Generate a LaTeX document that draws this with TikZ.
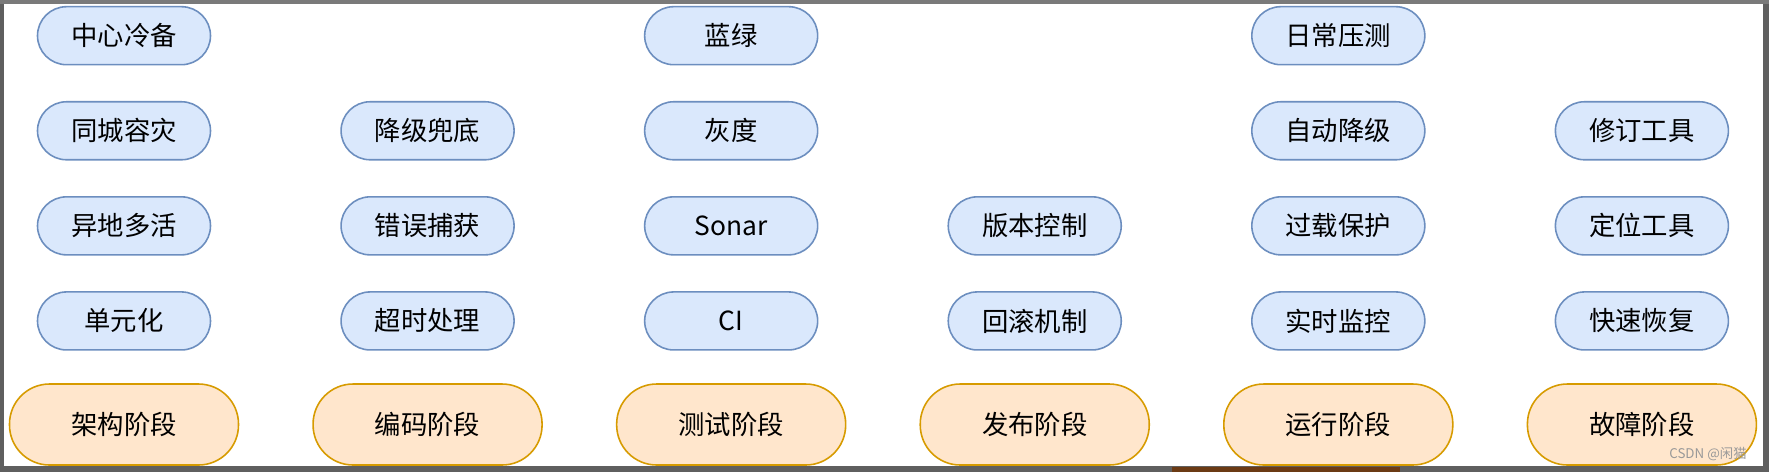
\documentclass[tikz,border=0pt]{standalone}
\usepackage{fontspec}
\newfontfamily\cjk{Noto Sans CJK SC}
\usepackage{tikz}
\usetikzlibrary{positioning}

\definecolor{itemfill}{HTML}{DAE8FC}
\definecolor{itemline}{HTML}{6C8EBF}
\definecolor{stagefill}{HTML}{FFE6CC}
\definecolor{stageline}{HTML}{D79B00}
\definecolor{framegray}{HTML}{5F5F5F}
\definecolor{topgray}{HTML}{7A7A7A}
\definecolor{barbrown}{HTML}{6B3A14}

\tikzset{
    itembox/.style={rectangle, rounded corners=2.9mm, minimum width=17.3mm, minimum height=5.8mm, inner sep=0pt, draw=itemline, fill=itemfill, line width=0.45pt, text centered, font=\cjk\fontsize{7.5}{9}\selectfont},
    stagebox/.style={rectangle, rounded corners=4mm, minimum width=22.9mm, minimum height=8.1mm, inner sep=0pt, draw=stageline, fill=stagefill, line width=0.45pt, text centered, font=\cjk\fontsize{7.5}{9}\selectfont},
}

\begin{document}
\begin{tikzpicture}
    % screenshot frame
    \useasboundingbox (0, 0) rectangle (176.9mm, 47.2mm);
    \fill [framegray] (0, 0) rectangle (176.9mm, 47.2mm);
    \fill [topgray] (0, 46.8mm) rectangle (176.9mm, 47.2mm);
    \fill [barbrown] (117.2mm, 0) rectangle (140mm, 0.5mm);
    \fill [white] (0.4mm, 0.6mm) rectangle (176.3mm, 46.8mm);

    % stages
    \node [stagebox] (arch) at (12.4mm, 4.75mm) {架构阶段};
    \node [stagebox, right=7.3mm of arch] (code) {编码阶段};
    \node [stagebox, right=7.3mm of code] (test) {测试阶段};
    \node [stagebox, right=7.3mm of test] (release) {发布阶段};
    \node [stagebox, right=7.3mm of release] (run) {运行阶段};
    \node [stagebox, right=7.3mm of run] (fault) {故障阶段};

    % architecture
    \node [itembox, above=3.25mm of arch] (unit) {单元化};
    \node [itembox, above=3.55mm of unit] (multisite) {异地多活};
    \node [itembox, above=3.55mm of multisite] (samecity) {同城容灾};
    \node [itembox, above=3.55mm of samecity] (coldbackup) {中心冷备};

    % coding
    \node [itembox, above=3.25mm of code] (timeout) {超时处理};
    \node [itembox, above=3.55mm of timeout] (catcherr) {错误捕获};
    \node [itembox, above=3.55mm of catcherr] (fallback) {降级兜底};

    % testing
    \node [itembox, above=3.25mm of test] (ci) {CI};
    \node [itembox, above=3.55mm of ci] (sonar) {Sonar};
    \node [itembox, above=3.55mm of sonar] (grayrel) {灰度};
    \node [itembox, above=3.55mm of grayrel] (bluegreen) {蓝绿};

    % release
    \node [itembox, above=3.25mm of release] (rollback) {回滚机制};
    \node [itembox, above=3.55mm of rollback] (version) {版本控制};

    % running
    \node [itembox, above=3.25mm of run] (monitor) {实时监控};
    \node [itembox, above=3.55mm of monitor] (overload) {过载保护};
    \node [itembox, above=3.55mm of overload] (autodegrade) {自动降级};
    \node [itembox, above=3.55mm of autodegrade] (stress) {日常压测};

    % fault
    \node [itembox, above=3.25mm of fault] (recover) {快速恢复};
    \node [itembox, above=3.55mm of recover] (locate) {定位工具};
    \node [itembox, above=3.55mm of locate] (fixtool) {修订工具};

    \node [text=black!40, inner sep=0pt, font=\cjk\fontsize{3.8}{4}\selectfont] (watermark) at (170.8mm, 1.75mm) {CSDN @闲猫};
\end{tikzpicture}
\end{document}
